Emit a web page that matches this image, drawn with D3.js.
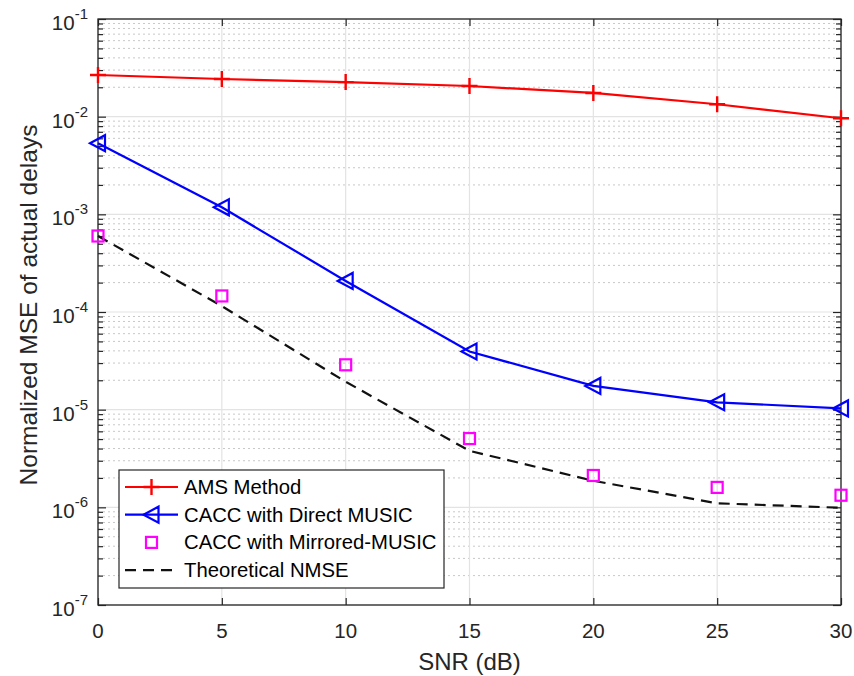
<!DOCTYPE html>
<html>
<head>
<meta charset="utf-8">
<script src="https://cdn.jsdelivr.net/npm/d3@7"></script>
<style>
  html, body { margin: 0; padding: 0; background: #ffffff; }
  svg { display: block; font-family: "Liberation Sans", Arial, Helvetica, sans-serif; }
</style>
</head>
<body>
<svg id="chart" width="854" height="676"></svg>
<script>
// ---- data ----
const snr = [0, 5, 10, 15, 20, 25, 30];
const ams = [0.0267, 0.0243, 0.0226, 0.0206, 0.0175, 0.0134, 0.00964];
const directMusic = [5.35e-3, 1.18e-3, 2.08e-4, 3.94e-5, 1.75e-5, 1.19e-5, 1.03e-5];
const mirroredMusic = [6.0e-4, 1.46e-4, 2.88e-5, 5.06e-6, 2.12e-6, 1.60e-6, 1.33e-6];
const theoretical = [6.0e-4, 1.15e-4, 1.93e-5, 3.79e-6, 1.87e-6, 1.10e-6, 9.9e-7];
const xTicks = [0, 5, 10, 15, 20, 25, 30];
const yExponents = [-7, -6, -5, -4, -3, -2, -1];
const legendLabels = ["AMS Method", "CACC with Direct MUSIC", "CACC with Mirrored-MUSIC", "Theoretical NMSE"];
const xLabel = "SNR (dB)";
const yLabel = "Normalized MSE of actual delays";

// ---- layout ----
const L = 98, R = 841, T = 19, B = 605;
const svg = d3.select("#chart");
const x = d3.scaleLinear().domain([0, 30]).range([L, R]);
const y = d3.scaleLog().domain([1e-7, 1e-1]).range([B, T]);
const axisColor = "#262626";

// minor values
const minors = [];
yExponents.slice(0, -1).forEach(e => {
  for (let m = 2; m <= 9; m++) minors.push(m * Math.pow(10, e));
});

// grid
const grid = svg.append("g");
grid.selectAll(".minor").data(minors).enter().append("line")
  .attr("x1", L).attr("x2", R)
  .attr("y1", d => y(d)).attr("y2", d => y(d))
  .attr("stroke", "#c8c8c8").attr("stroke-width", 1)
  .attr("stroke-dasharray", "2,3");
grid.selectAll(".major").data(yExponents).enter().append("line")
  .attr("x1", L).attr("x2", R)
  .attr("y1", d => y(Math.pow(10, d))).attr("y2", d => y(Math.pow(10, d)))
  .attr("stroke", "#e3e3e3").attr("stroke-width", 1.2);
grid.selectAll(".vx").data(xTicks).enter().append("line")
  .attr("x1", d => x(d)).attr("x2", d => x(d))
  .attr("y1", T).attr("y2", B)
  .attr("stroke", "#e3e3e3").attr("stroke-width", 1.2);

// axes using d3 axis generators (ticks inward)
const xAxisB = d3.axisBottom(x).tickValues(xTicks).tickSize(-7).tickFormat("");
const xAxisT = d3.axisTop(x).tickValues(xTicks).tickSize(-7).tickFormat("");
const yMajorL = d3.axisLeft(y).tickValues(yExponents.map(e => Math.pow(10, e))).tickSize(-8).tickFormat("");
const yMajorR = d3.axisRight(y).tickValues(yExponents.map(e => Math.pow(10, e))).tickSize(-8).tickFormat("");
const yMinorL = d3.axisLeft(y).tickValues(minors).tickSize(-5).tickFormat("");
const yMinorR = d3.axisRight(y).tickValues(minors).tickSize(-5).tickFormat("");

function styleAxis(g) {
  g.selectAll("path").attr("stroke", axisColor).attr("stroke-width", 1.3);
  g.selectAll("line").attr("stroke", axisColor).attr("stroke-width", 1.2);
}
svg.append("g").attr("transform", `translate(0,${B})`).call(xAxisB).call(styleAxis);
svg.append("g").attr("transform", `translate(0,${T})`).call(xAxisT).call(styleAxis);
svg.append("g").attr("transform", `translate(${L},0)`).call(yMajorL).call(styleAxis);
svg.append("g").attr("transform", `translate(${R},0)`).call(yMajorR).call(styleAxis);
svg.append("g").attr("transform", `translate(${L},0)`).call(yMinorL).call(styleAxis);
svg.append("g").attr("transform", `translate(${R},0)`).call(yMinorR).call(styleAxis);
svg.selectAll(".domain").attr("d", null);
svg.append("rect").attr("x", L).attr("y", T).attr("width", R - L).attr("height", B - T)
  .attr("fill", "none").attr("stroke", axisColor).attr("stroke-width", 1.3);

// tick labels
svg.append("g").selectAll("text").data(xTicks).enter().append("text")
  .attr("x", d => x(d)).attr("y", B + 33)
  .attr("text-anchor", "middle").attr("font-size", 20.5).attr("fill", axisColor)
  .text(d => d);

const yl = svg.append("g").selectAll("text").data(yExponents).enter().append("text")
  .attr("x", L - 10).attr("y", d => y(Math.pow(10, d)) + 11)
  .attr("text-anchor", "end").attr("font-size", 20.5).attr("fill", axisColor);
yl.append("tspan").text("10");
yl.append("tspan").attr("font-size", 15).attr("dy", -11).text(d => "-" + Math.abs(d));

// axis labels
svg.append("text").attr("x", (L + R) / 2).attr("y", 670)
  .attr("text-anchor", "middle").attr("font-size", 24).attr("fill", axisColor).text(xLabel);
svg.append("text").attr("transform", `translate(37,${(T + B) / 2 - 7}) rotate(-90)`)
  .attr("text-anchor", "middle").attr("font-size", 24.5).attr("fill", axisColor).text(yLabel);

// lines
const line = d3.line().x((d, i) => x(snr[i])).y(d => y(d));
const plot = svg.append("g");
plot.append("path").datum(ams).attr("d", line).attr("fill", "none").attr("stroke", "#ff0000").attr("stroke-width", 2.2);
plot.append("path").datum(directMusic).attr("d", line).attr("fill", "none").attr("stroke", "#0000ff").attr("stroke-width", 2.2);
plot.append("path").datum(theoretical).attr("d", line).attr("fill", "none").attr("stroke", "#111111")
  .attr("stroke-width", 2.2).attr("stroke-dasharray", "11,7");

// markers
function plus(g, cx, cy) {
  g.append("path").attr("d", `M${cx - 8},${cy}H${cx + 8}M${cx},${cy - 8}V${cy + 8}`)
    .attr("stroke", "#ff0000").attr("stroke-width", 2.4).attr("fill", "none");
}
function tri(g, cx, cy) {
  g.append("path").attr("d", `M${cx - 8},${cy}L${cx + 7},${cy - 8}L${cx + 7},${cy + 8}Z`)
    .attr("stroke", "#0000ff").attr("stroke-width", 2.2).attr("fill", "none");
}
function sq(g, cx, cy) {
  g.append("rect").attr("x", cx - 5.5).attr("y", cy - 5.5).attr("width", 11).attr("height", 11)
    .attr("stroke", "#ff00ff").attr("stroke-width", 2.2).attr("fill", "none");
}
ams.forEach((v, i) => plus(plot, x(snr[i]), y(v)));
directMusic.forEach((v, i) => tri(plot, x(snr[i]), y(v)));
mirroredMusic.forEach((v, i) => sq(plot, x(snr[i]), y(v)));

// legend
const lg = svg.append("g");
const lx = 119, ly = 470, lw = 325, lh = 118;
lg.append("rect").attr("x", lx).attr("y", ly).attr("width", lw).attr("height", lh)
  .attr("fill", "#ffffff").attr("stroke", axisColor).attr("stroke-width", 1.2);
const rowY = i => ly + 17 + i * 27.7;
legendLabels.forEach((lab, i) => {
  const cy = rowY(i);
  if (i === 0) {
    lg.append("line").attr("x1", 125).attr("x2", 178).attr("y1", cy).attr("y2", cy).attr("stroke", "#ff0000").attr("stroke-width", 2.2);
    plus(lg, 151.5, cy);
  } else if (i === 1) {
    lg.append("line").attr("x1", 125).attr("x2", 178).attr("y1", cy).attr("y2", cy).attr("stroke", "#0000ff").attr("stroke-width", 2.2);
    tri(lg, 151.5, cy);
  } else if (i === 2) {
    sq(lg, 151.5, cy);
  } else {
    lg.append("line").attr("x1", 125).attr("x2", 178).attr("y1", cy).attr("y2", cy).attr("stroke", "#111111")
      .attr("stroke-width", 2.2).attr("stroke-dasharray", "11,7");
  }
  lg.append("text").attr("x", 184).attr("y", cy + 7).attr("font-size", 20.3).attr("fill", "#000")
    .text(lab);
});
</script>
</body>
</html>
